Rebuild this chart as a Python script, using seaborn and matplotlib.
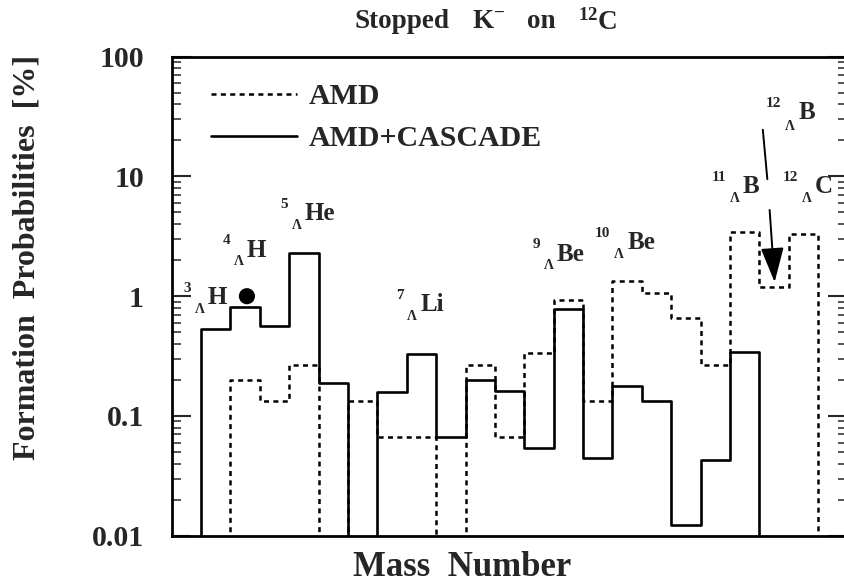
import matplotlib
matplotlib.use("Agg")
import matplotlib.pyplot as plt
import seaborn as sns
import numpy as np
import pandas as pd

# ---- data (formation probabilities in %, one value per bin) ----
bin_index = list(range(23))
amd = [0, 0, 0.200, 0.133, 0.267, 0, 0.133, 0.0666, 0.0666, 0, 0.267, 0.0666,
       0.335, 0.93, 0.133, 1.33, 1.06, 0.662, 0.267, 3.43, 1.20, 3.28, 0]
amd_cascade = [0, 0.53, 0.81, 0.56, 2.29, 0.187, 0, 0.160, 0.332, 0.067, 0.199,
               0.161, 0.054, 0.78, 0.0444, 0.179, 0.134, 0.0124, 0.0425, 0.339,
               0, 0, 0]
exp_bin = [2.56]
exp_value = [1.0]

nuclide_mass = ["3", "4", "5", "7", "9", "10", "11", "12", "12"]
nuclide_element = ["H", "H", "He", "Li", "Be", "Be", "B", "C", "B"]
label_x = [1.235, 2.563, 4.54, 8.46, 13.11, 15.50, 19.44, 21.89, 21.32]
label_y = [0.966, 2.43, 4.86, 0.845, 2.25, 2.83, 8.17, 8.17, 34.5]

ytick_vals = [0.01, 0.1, 1, 10, 100]
ytick_labels = ["0.01", "0.1", "1", "10", "100"]

title_parts = ["Stopped", r"K$^{-}$", "on", r"$^{12}$C"]
title_left_px = [355, 472, 527, 578]

# ---- style ----
sns.set_theme(style="ticks")
plt.rcParams["font.family"] = ["Liberation Serif", "DejaVu Serif"]
plt.rcParams["font.weight"] = "bold"
plt.rcParams["mathtext.fontset"] = "custom"
plt.rcParams["mathtext.rm"] = "Liberation Serif:bold"
plt.rcParams["mathtext.bf"] = "Liberation Serif:bold"
plt.rcParams["mathtext.it"] = "Liberation Serif:bold:italic"
plt.rcParams["mathtext.default"] = "rm"

fig = plt.figure(figsize=(8.45, 5.87), dpi=100)
ax = fig.add_axes([171.7 / 845, 51.3 / 587, 675.8 / 845, 479.0 / 587])

edges = list(range(len(bin_index) + 1))
df_amd = pd.DataFrame({"bin": np.array(bin_index) + 0.5, "value": amd})
df_cas = pd.DataFrame({"bin": np.array(bin_index) + 0.5, "value": amd_cascade})

sns.histplot(data=df_amd, x="bin", weights="value", bins=edges, element="step",
             fill=False, color="black", linewidth=1.8,
             linestyle=(0, (2.0, 1.75)), ax=ax, label="AMD")
sns.histplot(data=df_cas, x="bin", weights="value", bins=edges, element="step",
             fill=False, color="black", linewidth=1.9, ax=ax,
             label="AMD+CASCADE")
sns.scatterplot(x=exp_bin, y=exp_value, s=135, color="black", edgecolor="none",
                ax=ax, zorder=5, legend=False)

ax.set_yscale("log")
ax.set_xlim(0, 23)
ax.set_ylim(0.01, 100)
ax.set_xticks([])
ax.set_xlabel("")
ax.set_yticks(ytick_vals)
ax.set_yticklabels(ytick_labels)
ax.tick_params(axis="y", which="major", direction="in", left=True, right=True,
               length=14, width=1.5, pad=20, labelsize=21.5)
ax.tick_params(axis="y", which="minor", direction="in", left=True, right=True,
               length=6.5, width=1.1)
for lab in ax.get_yticklabels():
    lab.set_fontweight("bold")
for sp in ax.spines.values():
    sp.set_linewidth(2.0)
    sp.set_color("black")

ax.set_ylabel("Formation  Probabilities  [%]", fontsize=23, fontweight="bold")
ax.yaxis.set_label_coords(-0.192, 0.58)
ax.set_xlabel("Mass  Number", fontsize=25, fontweight="bold")
ax.xaxis.label.set_va("center")
ax.xaxis.set_label_coords(0.43, -0.067)

for part, px in zip(title_parts, title_left_px):
    fig.text(px / 845, 1 - 22 / 587, part, ha="left", va="center",
             fontsize=19.5, fontweight="bold")

lines = [l for l in ax.get_lines()][:2]
ax.legend(handles=lines, labels=["AMD", "AMD+CASCADE"], loc="upper left",
          bbox_to_anchor=(0.058, 0.945), frameon=False,
          handlelength=2.9, handletextpad=0.37, labelspacing=0.51,
          borderpad=0, borderaxespad=0, prop={"weight": "bold", "size": 21.5})

# nuclide labels
for m, el, lx, ly in zip(nuclide_mass, nuclide_element, label_x, label_y):
    ax.annotate(el, xy=(lx, ly), ha="left", va="center", fontsize=18,
                fontweight="bold")
    ax.annotate(m, xy=(lx, ly), xytext=(-12, 6.5), textcoords="offset points",
                ha="right", va="center", fontsize=11, fontweight="bold")
    dy = -10.5 if el == "B" and ly > 20 else -8.6
    ax.annotate("Λ", xy=(lx, ly), xytext=(-5.8, dy), textcoords="offset points",
                ha="center", va="center", fontsize=10, fontweight="bold")

# arrow from 12_Lambda B label to its bin
ax.annotate("", xy=(20.28, 9.0), xytext=(20.11, 25.9),
            arrowprops=dict(arrowstyle="-", color="black", lw=1.4))
ax.annotate("", xy=(20.52, 1.31), xytext=(20.35, 5.25),
            arrowprops=dict(arrowstyle="-|>,head_length=1.2,head_width=0.4",
                            color="black", lw=1.4, mutation_scale=18,
                            shrinkA=0, shrinkB=0))

fig.savefig("out.png", dpi=100)
